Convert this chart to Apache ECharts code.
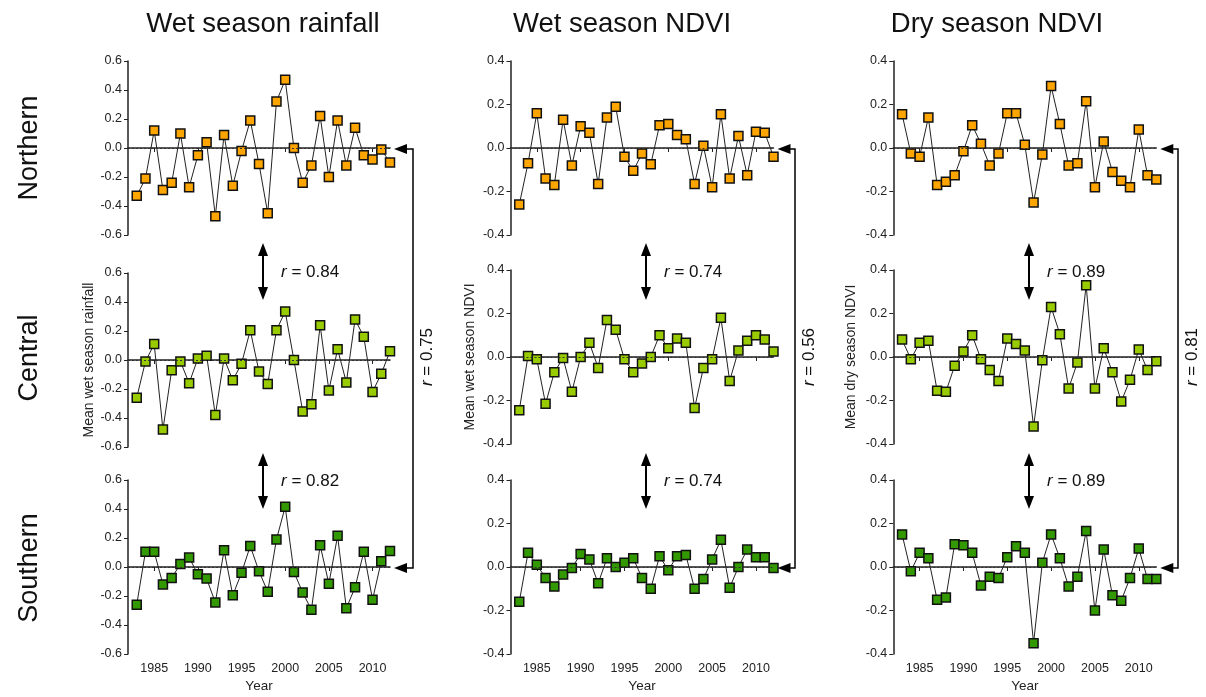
<!DOCTYPE html>
<html><head><meta charset="utf-8">
<script src="https://cdn.jsdelivr.net/npm/echarts@6/dist/echarts.min.js"></script>
<style>html,body{margin:0;padding:0;background:#fff}#c{width:1206px;height:697px}</style>
</head><body><div id="c"></div>
<script>
const years = [1983,1984,1985,1986,1987,1988,1989,1990,1991,1992,1993,1994,1995,1996,1997,1998,1999,2000,2001,2002,2003,2004,2005,2006,2007,2008,2009,2010,2011,2012];
const xTicks = [1985,1990,1995,2000,2005,2010];
const colTitles = ['Wet season rainfall','Wet season NDVI','Dry season NDVI'];
const rowTitles = ['Northern','Central','Southern'];
const yNames = ['Mean wet season rainfall','Mean wet season NDVI','Mean dry season NDVI'];
const rBetweenRows = [['0.84','0.82'],['0.74','0.74'],['0.89','0.89']];
const rNorthSouth = ['0.75','0.56','0.81'];

const northRain = [-0.33,-0.21,0.12,-0.29,-0.24,0.10,-0.27,-0.05,0.04,-0.47,0.09,-0.26,-0.02,0.19,-0.11,-0.45,0.32,0.47,0.00,-0.24,-0.12,0.22,-0.20,0.19,-0.12,0.14,-0.05,-0.08,-0.01,-0.10];
const northWetNdvi = [-0.26,-0.07,0.16,-0.14,-0.17,0.13,-0.08,0.10,0.07,-0.165,0.14,0.19,-0.04,-0.105,-0.025,-0.075,0.105,0.11,0.06,0.04,-0.165,0.01,-0.18,0.155,-0.14,0.055,-0.125,0.075,0.07,-0.04];
const northDryNdvi = [0.155,-0.025,-0.04,0.14,-0.17,-0.155,-0.125,-0.015,0.105,0.02,-0.08,-0.025,0.16,0.16,0.015,-0.25,-0.03,0.285,0.11,-0.08,-0.07,0.215,-0.18,0.03,-0.11,-0.15,-0.18,0.085,-0.125,-0.145];
const centralRain = [-0.26,-0.01,0.11,-0.48,-0.07,-0.01,-0.16,0.01,0.03,-0.38,0.01,-0.14,-0.025,0.205,-0.08,-0.165,0.205,0.335,0.00,-0.355,-0.305,0.24,-0.21,0.075,-0.155,0.28,0.16,-0.22,-0.095,0.06];
const centralWetNdvi = [-0.245,0.005,-0.01,-0.215,-0.07,-0.005,-0.16,0.00,0.065,-0.05,0.17,0.125,-0.01,-0.07,-0.03,0.00,0.10,0.04,0.085,0.065,-0.235,-0.05,-0.01,0.18,-0.11,0.03,0.075,0.10,0.08,0.025];
const centralDryNdvi = [0.08,-0.01,0.065,0.075,-0.155,-0.16,-0.04,0.025,0.10,-0.01,-0.06,-0.11,0.085,0.06,0.03,-0.32,-0.015,0.23,0.105,-0.145,-0.025,0.33,-0.145,0.04,-0.07,-0.205,-0.105,0.035,-0.06,-0.02];
const southRain = [-0.26,0.105,0.105,-0.12,-0.075,0.02,0.065,-0.05,-0.08,-0.245,0.115,-0.195,-0.04,0.145,-0.03,-0.17,0.19,0.415,-0.035,-0.175,-0.295,0.15,-0.115,0.215,-0.285,-0.14,0.105,-0.225,0.04,0.11];
const southWetNdvi = [-0.16,0.065,0.01,-0.05,-0.09,-0.035,-0.005,0.06,0.035,-0.075,0.04,0.00,0.02,0.04,-0.05,-0.10,0.05,-0.015,0.05,0.055,-0.10,-0.055,0.035,0.125,-0.095,0.00,0.08,0.045,0.045,-0.005];
const southDryNdvi = [0.15,-0.02,0.065,0.04,-0.15,-0.14,0.105,0.10,0.065,-0.085,-0.045,-0.05,0.045,0.095,0.065,-0.35,0.02,0.15,0.04,-0.09,-0.045,0.165,-0.20,0.08,-0.13,-0.155,-0.05,0.085,-0.055,-0.055];

const panels = [
  [northRain, northWetNdvi, northDryNdvi],
  [centralRain, centralWetNdvi, centralDryNdvi],
  [southRain, southWetNdvi, southDryNdvi]
];
const yRanges = [0.6, 0.4, 0.4];
const rowColors = ['#FFA500','#99CC00','#339900'];

const FONT = "'Liberation Sans', Arial, sans-serif";
const colLeft = [128, 510.5, 893.3];
const colWidth = [262, 263, 263];
const rowTop = [[61,61,61],[273,270,270],[480,480,480]];
const H = 174;
const yNameGap = [26, 33, 35];

const grids = [], xAxes = [], yAxes = [], series = [];
let idx = 0;
for (let r = 0; r < 3; r++) {
  for (let c = 0; c < 3; c++) {
    grids.push({left: colLeft[c], top: rowTop[r][c], width: colWidth[c], height: H, containLabel: false});
    const bottom = r === 2;
    xAxes.push({
      type: 'value', gridIndex: idx, min: 1982, max: 2012,
      splitLine: {show: false},
      axisLine: {lineStyle: {color: '#222', width: 1.5}},
      axisTick: {show: true, inside: false, length: 4, customValues: xTicks, lineStyle: {color: '#222', width: 1}},
      axisLabel: {show: bottom, customValues: xTicks, color: '#222', fontSize: 12.5, fontFamily: FONT, margin: 8,
        formatter: v => String(v)},
      name: bottom ? 'Year' : '', nameLocation: 'middle', nameGap: 25,
      nameTextStyle: {color: '#222', fontSize: 13.5, fontFamily: FONT}
    });
    const m = yRanges[c];
    yAxes.push({
      type: 'value', gridIndex: idx, min: -m, max: m, interval: 0.2,
      splitLine: {show: false},
      axisLine: {show: true, lineStyle: {color: '#222', width: 1.5}},
      axisTick: {show: true, inside: false, length: 4, lineStyle: {color: '#222', width: 1}},
      axisLabel: {color: '#222', fontSize: 12.5, fontFamily: FONT, margin: 6,
        formatter: v => (Math.abs(v) < 1e-9 ? 0 : v).toFixed(1)},
      name: r === 1 ? yNames[c] : '', nameLocation: 'middle', nameRotate: 90, nameGap: yNameGap[c],
      nameTextStyle: {color: '#222', fontSize: 14, fontFamily: FONT}
    });
    series.push({
      type: 'line', xAxisIndex: idx, yAxisIndex: idx,
      data: years.map((y, k) => [y, panels[r][c][k]]),
      symbol: 'rect', symbolSize: 9, showAllSymbol: true,
      lineStyle: {color: '#222', width: 1},
      itemStyle: {color: rowColors[r], borderColor: '#111', borderWidth: 1.5},
      emphasis: {disabled: true}, animation: false, z: 3,
      markLine: {silent: true, symbol: 'none', label: {show: false}, animation: false,
        lineStyle: {color: '#333', type: [2, 2], width: 1},
        data: [{yAxis: 0}]}
    });
    idx++;
  }
}

// annotations
const graphic = [];
const titleCx = [263, 622, 997];
colTitles.forEach((t, c) => graphic.push({type: 'text', x: titleCx[c], y: 24,
  style: {text: t, fontSize: 27.5, fontFamily: FONT, fill: '#111', align: 'center', verticalAlign: 'middle'}}));
const rowCy = [148, 358, 568];
rowTitles.forEach((t, r) => graphic.push({type: 'text', x: 30, y: rowCy[r], rotation: Math.PI / 2,
  style: {text: t, fontSize: 27, fontFamily: FONT, fill: '#111', align: 'center', verticalAlign: 'middle'}}));

function vArrow(x, y1, y2) {
  graphic.push({type: 'line', shape: {x1: x, y1: y1 + 10, x2: x, y2: y2 - 10}, style: {stroke: '#000', lineWidth: 2}});
  graphic.push({type: 'polygon', shape: {points: [[x, y1], [x - 5, y1 + 13], [x + 5, y1 + 13]]}, style: {fill: '#000'}});
  graphic.push({type: 'polygon', shape: {points: [[x, y2], [x - 5, y2 - 13], [x + 5, y2 - 13]]}, style: {fill: '#000'}});
}
function rText(x, y, val, rot) {
  graphic.push({type: 'text', x: x, y: y, rotation: rot || 0,
    style: {text: '{i|r} = ' + val, fontSize: 17, fontFamily: FONT, fill: '#111',
      align: rot ? 'center' : 'left', verticalAlign: 'middle',
      rich: {i: {fontStyle: 'italic', fontSize: 17, fontFamily: FONT, fill: '#111'}}}});
}
const arrowX = [263, 646, 1029];
for (let c = 0; c < 3; c++) {
  vArrow(arrowX[c], 243, 300);
  rText(arrowX[c] + 18, 272, rBetweenRows[c][0]);
  vArrow(arrowX[c], 453, 509);
  rText(arrowX[c] + 18, 481, rBetweenRows[c][1]);
}
const brX = [413, 795, 1178];
const plotEnd = [390, 773.5, 1156.3];
for (let c = 0; c < 3; c++) {
  const yT = 149, yB = 568;
  graphic.push({type: 'polyline', shape: {points: [[plotEnd[c] + 15, yT], [brX[c], yT], [brX[c], yB], [plotEnd[c] + 15, yB]]},
    style: {stroke: '#000', lineWidth: 1.5, fill: null}});
  const tip = plotEnd[c] + 4;
  graphic.push({type: 'polygon', shape: {points: [[tip, yT], [tip + 13, yT - 5], [tip + 13, yT + 5]]}, style: {fill: '#000'}});
  graphic.push({type: 'polygon', shape: {points: [[tip, yB], [tip + 13, yB - 5], [tip + 13, yB + 5]]}, style: {fill: '#000'}});
  rText(brX[c] + 14, 357, rNorthSouth[c], Math.PI / 2);
}

const chart = echarts.init(document.getElementById('c'), null, {renderer: 'canvas'});
chart.setOption({
  animation: false,
  backgroundColor: '#fff',
  grid: grids, xAxis: xAxes, yAxis: yAxes, series: series,
  graphic: graphic
});
</script>
</body></html>
